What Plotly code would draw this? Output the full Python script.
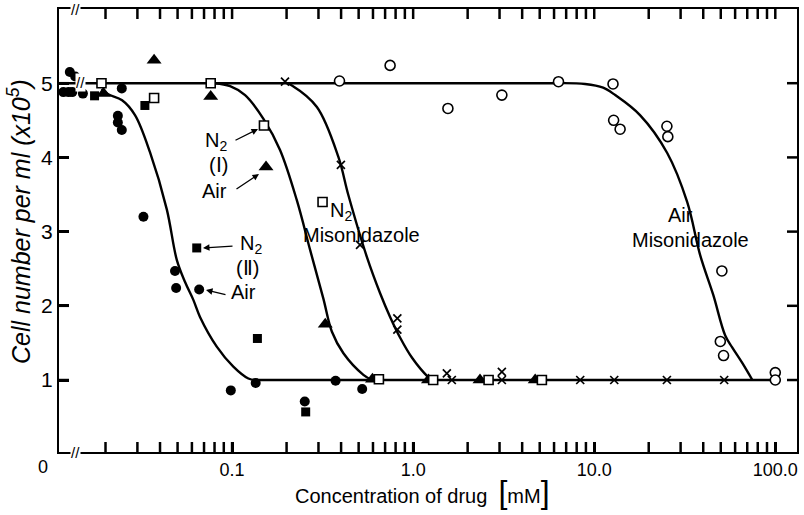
import plotly.graph_objects as go
import numpy as np

# ---------------- data ----------------
# Air (II)  - filled circles
air2_x = [0.0127, 0.0136, 0.0117, 0.0125, 0.0131, 0.0150, 0.0246, 0.0234, 0.0234, 0.0246,
          0.0324, 0.0484, 0.0491, 0.0658, 0.0984, 0.135, 0.373, 0.523, 0.252]
air2_y = [5.15, 5.09, 4.88, 4.88, 4.88, 4.86, 4.93, 4.56, 4.47, 4.37,
          3.20, 2.47, 2.24, 2.22, 0.86, 0.96, 0.99, 0.88, 0.71]
# N2 (II) - filled squares
n2b_x = [0.0174, 0.0330, 0.0638, 0.138, 0.255]
n2b_y = [4.83, 4.70, 2.78, 1.56, 0.57]
# Air (I) - filled triangles
air1_x = [0.0195, 0.0371, 0.0762, 0.154, 0.327, 0.596, 1.215, 2.34, 4.72]
air1_y = [4.86, 5.31, 4.82, 3.87, 1.75, 1.01, 1.0, 1.0, 1.0]
# N2 (I) - open squares
n2a_x = [0.0190, 0.0371, 0.0762, 0.150, 0.316, 0.647, 1.29, 2.61, 5.14]
n2a_y = [5.0, 4.80, 5.0, 4.43, 3.40, 1.01, 1.0, 1.0, 1.0]
# N2 Misonidazole - crosses
n2m_x = [0.196, 0.399, 0.509, 0.818, 0.818, 1.535, 1.635, 3.09, 3.09, 8.37, 12.9, 25.2, 52.2]
n2m_y = [5.02, 3.90, 2.82, 1.83, 1.68, 1.09, 1.0, 1.11, 1.0, 1.0, 1.0, 1.0, 1.0]
# Air Misonidazole - open circles
airm_x = [0.392, 0.746, 1.556, 3.09, 6.35, 12.7, 12.8, 13.9, 25.2, 25.5, 50.7, 49.7, 51.8, 100, 100]
airm_y = [5.03, 5.24, 4.66, 4.84, 5.02, 4.99, 4.50, 4.38, 4.42, 4.28, 2.47, 1.52, 1.33, 1.10, 1.0]

# fitted curves
top_x = [0.01107, 6.3]
top_y = [5.0, 5.0]
bot_x = [0.134, 97.0]
bot_y = [1.0, 1.0]
c_left_x = [0.0190, 0.0207, 0.0247, 0.0291, 0.0352, 0.0436, 0.0495, 0.0550, 0.0611, 0.0665,
            0.0823, 0.1016, 0.123, 0.134]
c_left_y = [4.92, 4.85, 4.77, 4.57, 4.07, 3.30, 2.62, 2.32, 2.08, 1.85, 1.45, 1.18, 1.02, 1.0]
c_mid_x = [0.0762, 0.0805, 0.0975, 0.118, 0.149, 0.184, 0.228, 0.270, 0.319, 0.356, 0.412, 0.531, 0.593]
c_mid_y = [5.0, 5.0, 4.96, 4.84, 4.52, 4.10, 3.42, 2.75, 2.10, 1.65, 1.36, 1.07, 1.0]
c_n2m_x = [0.196, 0.214, 0.294, 0.386, 0.439, 0.555, 0.657, 0.746, 0.848, 0.986, 1.21, 1.27]
c_n2m_y = [5.01, 4.97, 4.68, 4.01, 3.49, 2.66, 2.17, 1.85, 1.57, 1.30, 1.04, 1.0]
c_airm_x = [6.3, 8.9, 11.2, 13.06, 17.9, 25.3, 32.6, 38.5, 45.4, 52.9, 57.8, 65.7, 74.7]
c_airm_y = [5.0, 4.99, 4.94, 4.84, 4.57, 4.06, 3.40, 2.68, 2.15, 1.60, 1.44, 1.23, 1.0]

x_tickvals = [0.1, 1.0, 10.0, 100.0]
x_ticktext = ["0.1", "1.0", "10.0", "100.0"]
x_minor = [m * d for d in [0.01, 0.1, 1.0, 10.0] for m in range(2, 10)]
y_tickvals = [1, 2, 3, 4, 5]

# ---------------- figure ----------------
L, R, T, B = 59, 797, 9, 452
W, H = 804, 515
FONT = "Liberation Sans"

def px(xp):
    return (xp - L) / (R - L)

def py(yp):
    return (B - yp) / (B - T)

fig = go.Figure()
LW = 2.4
for cx, cy, shape in [(top_x, top_y, "linear"), (bot_x, bot_y, "linear"),
                      (c_left_x, c_left_y, "spline"), (c_mid_x, c_mid_y, "spline"),
                      (c_n2m_x, c_n2m_y, "spline"), (c_airm_x, c_airm_y, "spline")]:
    fig.add_trace(go.Scatter(x=cx, y=cy, mode="lines",
                             line=dict(color="black", width=LW, shape=shape),
                             hoverinfo="skip", showlegend=False))

def pts(x, y, symbol, size, fill, lw=0):
    fig.add_trace(go.Scatter(x=x, y=y, mode="markers", showlegend=False,
                             marker=dict(symbol=symbol, size=size, color=fill,
                                         line=dict(color="black", width=lw))))

pts(air2_x, air2_y, "circle", 10, "black")
pts(n2b_x, n2b_y, "square", 9, "black")
pts(air1_x, air1_y, "triangle-up", 13, "black")
pts(n2a_x, n2a_y, "square", 9, "white", 1.6)
pts(airm_x, airm_y, "circle", 10, "white", 1.6)
pts(n2m_x, n2m_y, "x-thin", 8, "black", 1.7)

anns = []
def label(text, xp, yp, size=20):
    anns.append(dict(text=text, x=px(xp), y=py(yp), xref="paper", yref="paper",
                     showarrow=False, font=dict(family=FONT, size=size, color="black"),
                     xanchor="center", yanchor="middle"))

label("N<sub>2</sub>", 216, 141)
label("(Ⅰ)", 218, 165)
label("Air", 214, 191)
label("N<sub>2</sub>", 251, 244)
label("(Ⅱ)", 247, 268)
label("Air", 243, 292)
label("N<sub>2</sub>", 341, 212)
label("Misonidazole", 361, 235)
label("Air", 680, 215)
label("Misonidazole", 690, 240)

def arrow(hx, hy, tx, ty):
    anns.append(dict(text="", x=px(hx), y=py(hy), xref="paper", yref="paper",
                     ax=tx - hx, ay=ty - hy, showarrow=True, arrowhead=2,
                     arrowsize=1, arrowwidth=1.3, arrowcolor="black"))

arrow(258, 129, 234, 141)
arrow(259, 174, 235, 190)
arrow(203, 248, 234, 246)
arrow(206, 290, 227, 295)

label("0", 43, 467, 18)
anns.append(dict(text="Concentration of drug  <span style='font-size:32px'>[</span>mM<span style='font-size:32px'>]</span>",
                 x=px(422), y=py(492), xref="paper", yref="paper", showarrow=False,
                 font=dict(family=FONT, size=20, color="black"), xanchor="center", yanchor="middle"))
anns.append(dict(text="<i>Cell number per ml (x10<sup>5</sup>)</i>",
                 x=px(19), y=py(222), xref="paper", yref="paper", showarrow=False, textangle=-90,
                 font=dict(family=FONT, size=25, color="black"), xanchor="center", yanchor="middle"))
for bx, by in [(75, 452), (75, 9), (80, 83)]:
    anns.append(dict(text="//", x=px(bx), y=py(by), xref="paper", yref="paper", showarrow=False,
                     font=dict(family=FONT, size=15, color="black"), bgcolor="white",
                     borderpad=0, xanchor="center", yanchor="middle"))

# tick marks (inside, on all four sides) placed through the axes' own scales
TL_X = 10 / (B - T)
TL_Y = 10 / (R - L)
shapes = []
tick_line = dict(color="black", width=2.5)
for v in x_tickvals + x_minor:
    shapes.append(dict(type="line", xref="x", yref="paper", x0=v, x1=v, y0=0, y1=TL_X,
                       line=tick_line, layer="above"))
    shapes.append(dict(type="line", xref="x", yref="paper", x0=v, x1=v, y0=1, y1=1 - TL_X,
                       line=tick_line, layer="above"))
for v in y_tickvals:
    shapes.append(dict(type="line", xref="paper", yref="y", x0=0, x1=TL_Y, y0=v, y1=v,
                       line=tick_line, layer="above"))
    shapes.append(dict(type="line", xref="paper", yref="y", x0=1, x1=1 - TL_Y, y0=v, y1=v,
                       line=tick_line, layer="above"))

fig.update_layout(
    template="none",
    width=W, height=H,
    margin=dict(l=L, r=W - R, t=T, b=H - B),
    paper_bgcolor="white", plot_bgcolor="white",
    annotations=anns, shapes=shapes,
    font=dict(family=FONT, size=18, color="black"),
    xaxis=dict(type="log", range=[np.log10(0.01107), np.log10(131.8)],
               tickmode="array", tickvals=x_tickvals, ticktext=x_ticktext,
               ticks="inside", ticklen=10, tickwidth=2.5, tickcolor="black",
               showline=True, linecolor="black", linewidth=2, mirror=True,
               showgrid=False, zeroline=False, tickfont=dict(family=FONT, size=18)),
    yaxis=dict(range=[0.03, 6.0], tickmode="array", tickvals=y_tickvals,
               ticks="inside", ticklen=10, tickwidth=2.5, tickcolor="black",
               showline=True, linecolor="black", linewidth=2, mirror=True,
               showgrid=False, zeroline=False, tickfont=dict(family=FONT, size=21)),
)

fig.write_html("out.html")
